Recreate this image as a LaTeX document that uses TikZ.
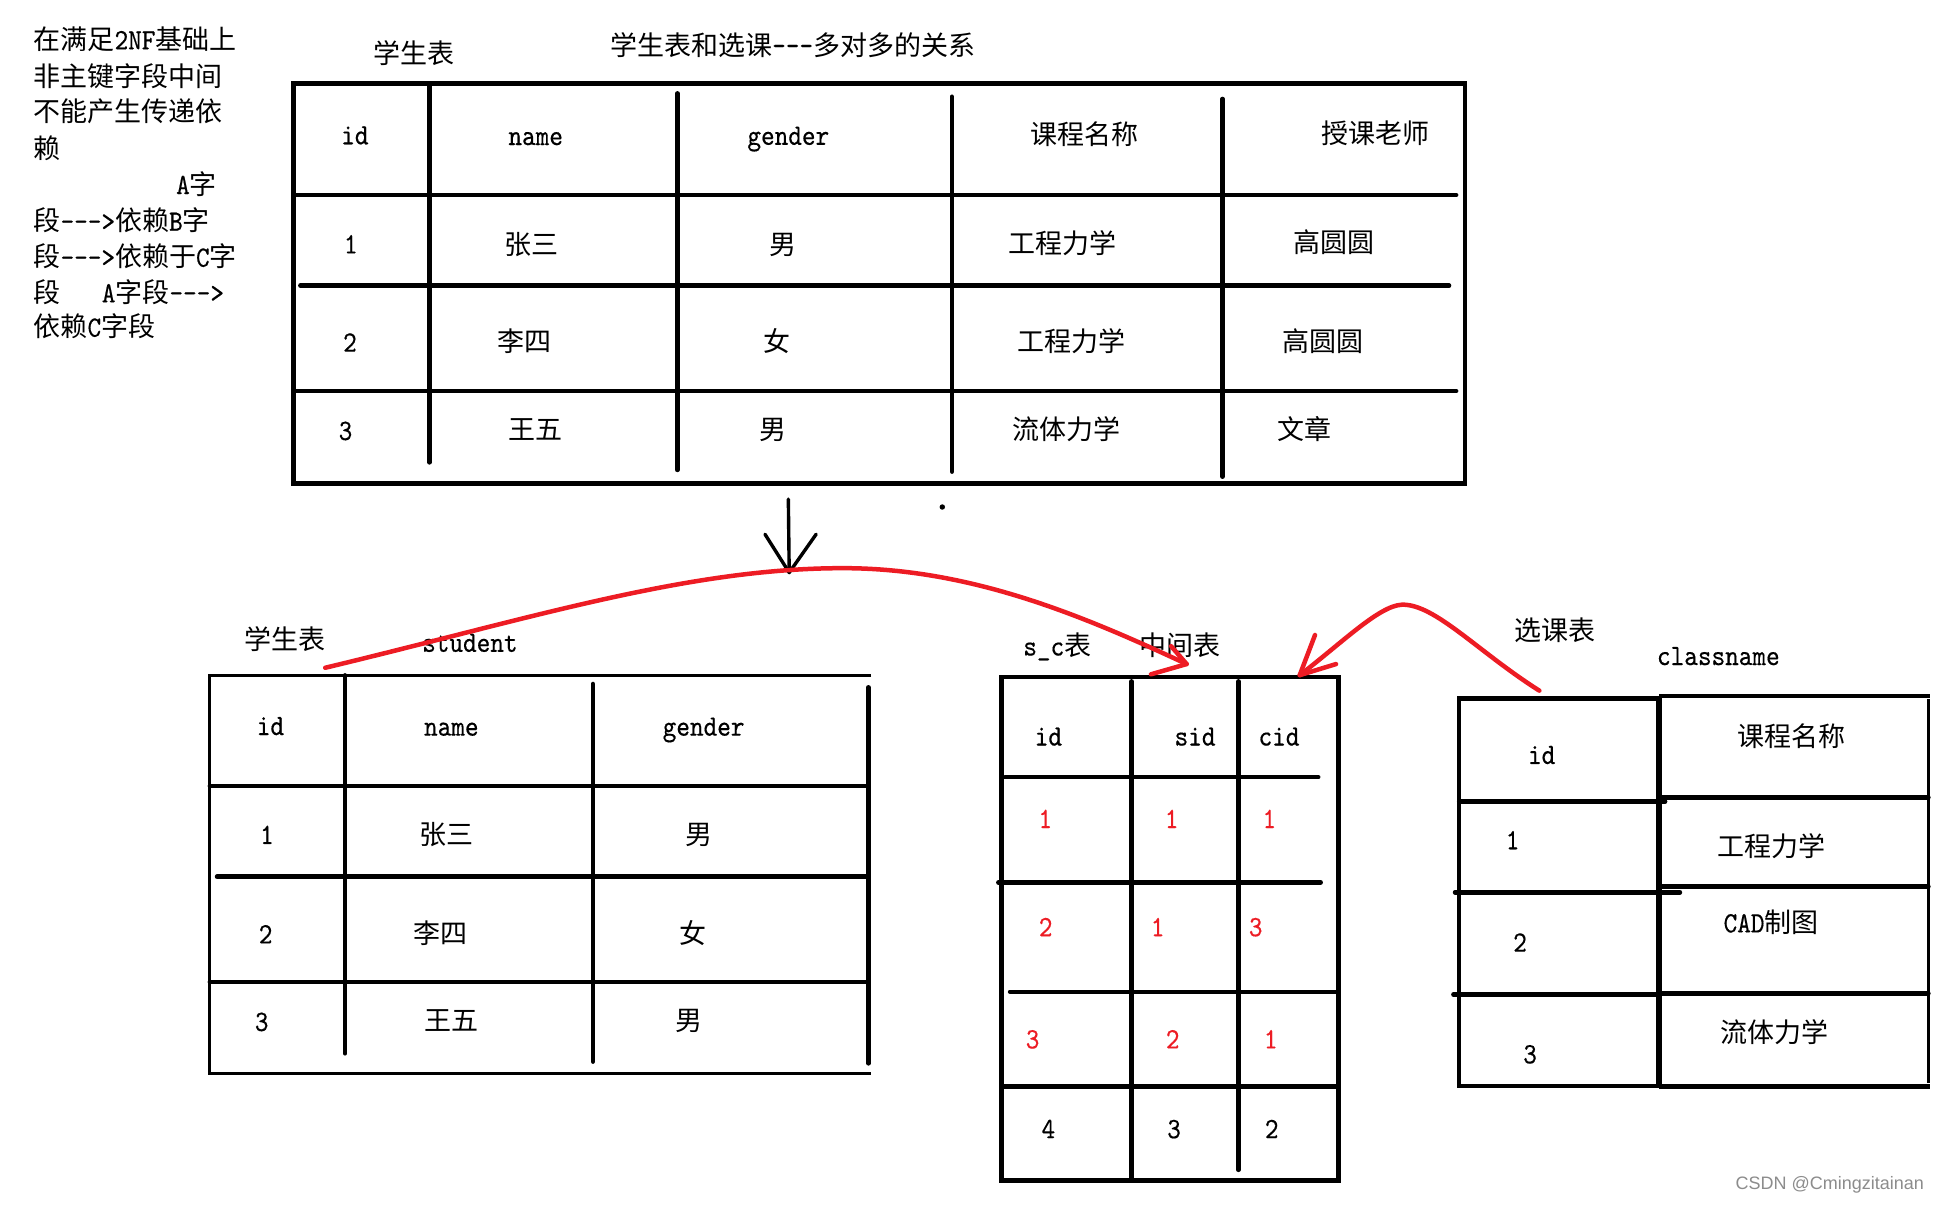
\documentclass[tikz,border=0pt]{standalone}
\usepackage{fontspec}
\newfontfamily\cjk{Noto Sans CJK SC}
\newfontfamily\wmfont{Liberation Sans}
\newfontfamily\lmm{lmmono10-regular.otf}[FakeStretch=0.88, FakeBold=0.4]
\newcommand\hw[1]{{\lmm\fontsize{29.5}{32}\selectfont #1}}
\newcommand\dsh{-\kern0pt-\kern0pt-\kern0pt>}
\definecolor{pred}{RGB}{237,28,36}
\begin{document}
\begin{tikzpicture}[x=1.2366pt,y=-1.2366pt,
  txt/.style={inner sep=0pt, font=\cjk\fontsize{27}{32}\selectfont, text height=20pt, text depth=0pt, anchor=center},
  ltxt/.style={txt, anchor=west},
  rtxt/.style={txt, text=pred},
  tb/.style={line width=4.5pt, line cap=round},
  ob/.style={line width=4.5pt, line join=miter},
  thinb/.style={line width=3pt},
  rl/.style={draw=pred, line width=4.5pt, line cap=round, line join=round},
  bl/.style={line width=3.4pt, line cap=round, line join=round}]
\useasboundingbox (0,0) rectangle (1568,974);
\fill[white] (0,0) rectangle (1568,974);

% left explanation
\node[ltxt] (l1) at (27,31.8) {在满足\hw{2NF}基础上};
\node[ltxt] (l2) at (27,61.5) {非主键字段中间};
\node[ltxt] (l3) at (27,90.3) {不能产生传递依};
\node[ltxt] (l4) at (27,119.7) {赖};
\node[ltxt] (l5) at (142.3,148.8) {\hw{A}字};
\node[ltxt] (l6) at (27,178.5) {段\hw{\dsh}依赖\hw{B}字};
\node[ltxt] (l7) at (27,207.6) {段\hw{\dsh}依赖于\hw{C}字};
\node[ltxt] (l8a) at (27,236.4) {段};
\node[ltxt] (l8b) at (82.2,236.4) {\hw{A}字段\hw{\dsh}};
\node[ltxt] (l9) at (27,264.2) {依赖\hw{C}字段};

% titles
\node[txt] (ttl1) at (334.7,43.1) {学生表};
\node[txt] (ttl2) at (641,36.4) {学生表和选课\hw{-\kern0pt-\kern0pt-}多对多的关系};

% top table
\draw[ob] (237.3,67.4) rectangle (1184.5,390.9);
\draw[tb] (347.2,67.4) -- (347.2,373.9);
\draw[tb] (547.7,75.5) -- (547.7,380);
\draw[tb] (769.8,78.2) -- (769.8,381.4);
\draw[tb] (988.6,80) -- (988.6,385.5);
\draw[tb] (237.3,157.7) -- (1177.5,157.7);
\draw[tb] (242.9,231) -- (1171.8,231);
\draw[tb] (237.3,316.2) -- (1177.5,316.2);

\node[txt] (h1) at (287,108.6) {\hw{id}};
\node[txt] (h2) at (433.2,109.2) {\hw{name}};
\node[txt] (h3) at (637.5,109) {\hw{gender}};
\node[txt] (h4) at (876.6,108.6) {课程名称};
\node[txt] (h5) at (1112.4,107.8) {授课老师};
\node[txt] (a1) at (283.7,196.8) {\hw{1}};
\node[txt] (a2) at (429.4,197.6) {张三};
\node[txt] (a3) at (632.8,197.6) {男};
\node[txt] (a4) at (859.5,196.8) {工程力学};
\node[txt] (a5) at (1078.4,196.2) {高圆圆};
\node[txt] (b1) at (283,276.3) {\hw{2}};
\node[txt] (b2) at (423.9,276.3) {李四};
\node[txt] (b3) at (628.2,276.3) {女};
\node[txt] (b4) at (866.3,276.3) {工程力学};
\node[txt] (b5) at (1069.7,276.3) {高圆圆};
\node[txt] (c1) at (279.4,347.7) {\hw{3}};
\node[txt] (c2) at (433.2,347.7) {王五};
\node[txt] (c3) at (625,347.7) {男};
\node[txt] (c4) at (862.7,347.7) {流体力学};
\node[txt] (c5) at (1055.2,347.7) {文章};

% black arrow and dot
\coordinate (arT) at (637.5,403.6);
\coordinate (arB) at (638.2,463);
\draw[bl] (arT) -- (arB);
\draw[bl] (618.6,432) -- (arB) -- (660,432);
\fill (762,410) circle (2.2);

% student table
\node[txt] (st1) at (230.3,517) {学生表};
\node[txt] (st2) at (380,519) {\hw{student}};
\draw[thinb] (704.4,546.1) -- (169.7,546.1) -- (169.7,868) -- (704.4,868);
\draw[tb] (279,546.1) -- (279,851.8);
\draw[tb] (479.4,553.1) -- (479.4,858.5);
\draw[tb] (702.2,555.8) -- (702.2,859.9);
\draw[tb] (169.7,635.6) -- (702.2,635.6);
\draw[tb] (175.5,708.9) -- (702.2,708.9);
\draw[tb] (169.7,794.1) -- (702.2,794.1);
\node[txt] (sh1) at (218.7,586.3) {\hw{id}};
\node[txt] (sh2) at (365,586.8) {\hw{name}};
\node[txt] (sh3) at (569,586.8) {\hw{gender}};
\node[txt] (sa1) at (215.9,674.4) {\hw{1}};
\node[txt] (sa2) at (361.4,675.2) {张三};
\node[txt] (sa3) at (565.3,675.2) {男};
\node[txt] (sb1) at (214.8,754.8) {\hw{2}};
\node[txt] (sb2) at (356.6,754.8) {李四};
\node[txt] (sb3) at (560.7,754.8) {女};
\node[txt] (sc1) at (211.6,825.6) {\hw{3}};
\node[txt] (sc2) at (365,825.6) {王五};
\node[txt] (sc3) at (557,825.6) {男};

% s_c table
\node[txt] (m1) at (855,522) {\hw{s\_c}表};
\node[txt] (m2) at (954.2,522) {中间表};
\draw[ob] (810,547.6) rectangle (1082.3,954.5);
\draw[tb] (915.1,551) -- (915.1,953);
\draw[tb] (1001.4,551) -- (1001.4,946);
\draw[tb] (812.7,628.4) -- (1066,628.4);
\draw[tb] (807.3,713.6) -- (1068,713.6);
\draw[tb] (816.8,802) -- (1082.3,802);
\draw[ob] (810,878.6) -- (1082.3,878.6);
\node[txt] (mh1) at (847.8,594.8) {\hw{id}};
\node[txt] (mh2) at (966.4,594.8) {\hw{sid}};
\node[txt] (mh3) at (1034.3,594.8) {\hw{cid}};
\node[rtxt] (ma1) at (845.3,661.5) {\hw{1}};
\node[rtxt] (ma2) at (947.5,661.5) {\hw{1}};
\node[rtxt] (ma3) at (1026.5,661.5) {\hw{1}};
\node[rtxt] (mb1) at (845.6,749) {\hw{2}};
\node[rtxt] (mb2) at (936.2,749) {\hw{1}};
\node[rtxt] (mb3) at (1015.4,749) {\hw{3}};
\node[rtxt] (mc1) at (835,839.7) {\hw{3}};
\node[rtxt] (mc2) at (948.3,839.7) {\hw{2}};
\node[rtxt] (mc3) at (1027.6,839.7) {\hw{1}};
\node[txt] (md1) at (847.8,912.3) {\hw{4}};
\node[txt] (md2) at (949.4,912.3) {\hw{3}};
\node[txt] (md3) at (1028.4,912.3) {\hw{2}};

% classname table
\node[txt] (k1) at (1257.5,510) {选课表};
\node[txt] (k2) at (1389.6,529.7) {\hw{classname}};
\draw[ob] (1180,564.7) rectangle (1341.6,878.2);
\draw[ob] (1341.6,562.8) -- (1560.7,562.8);
\draw[ob] (1341.6,878.8) -- (1560.7,878.8);
\draw[line width=2.5pt] (1559.4,565) -- (1559.4,876);
\draw[line width=6.5pt] (1341.6,562.8) -- (1341.6,878.8);
\draw[tb] (1180,648.3) -- (1346.5,648.3);
\draw[tb] (1176.6,721.6) -- (1358.5,721.6);
\draw[tb] (1175.3,804.1) -- (1341.6,804.1);
\draw[tb] (1341.6,644.8) -- (1559.4,644.8);
\draw[tb] (1341.6,717) -- (1559.4,717);
\draw[tb] (1341.6,803.3) -- (1559.4,803.3);
\node[txt] (kh1) at (1246.7,609.7) {\hw{id}};
\node[txt] (kh2) at (1448.9,595.7) {课程名称};
\node[txt] (ka1) at (1223.2,678.7) {\hw{1}};
\node[txt] (ka2) at (1432.2,684.7) {工程力学};
\node[txt] (kb1) at (1229.2,761.5) {\hw{2}};
\node[txt] (kb2) at (1432.2,745.9) {\hw{CAD}制图};
\node[txt] (kc1) at (1237.3,851.8) {\hw{3}};
\node[txt] (kc2) at (1434.8,834.8) {流体力学};

% red connectors
\coordinate (redA) at (263,540);
\coordinate (peakA) at (688,459.5);
\coordinate (tipA) at (959.6,537);
\draw[rl] (redA) .. controls (430,500) and (560,458) .. (peakA) .. controls (790,461) and (880,500) .. (tipA);
\draw[rl] (930.7,545.3) -- (tipA) -- (947,522.5);
\coordinate (redB) at (1244.8,558.5);
\coordinate (peakB) at (1133.5,489);
\coordinate (tipB) at (1051,546);
\draw[rl] (redB) .. controls (1195,527) and (1160,488) .. (peakB) .. controls (1115,490) and (1085,520) .. (tipB);
\draw[rl] (1063.4,513.5) -- (tipB) -- (1080.4,537);

% watermark
\node[inner sep=0pt, anchor=east, text=black!45, font=\wmfont\fontsize{18}{20}\selectfont] (wm) at (1556,958.3) {CSDN @Cmingzitainan};
\end{tikzpicture}
\end{document}
